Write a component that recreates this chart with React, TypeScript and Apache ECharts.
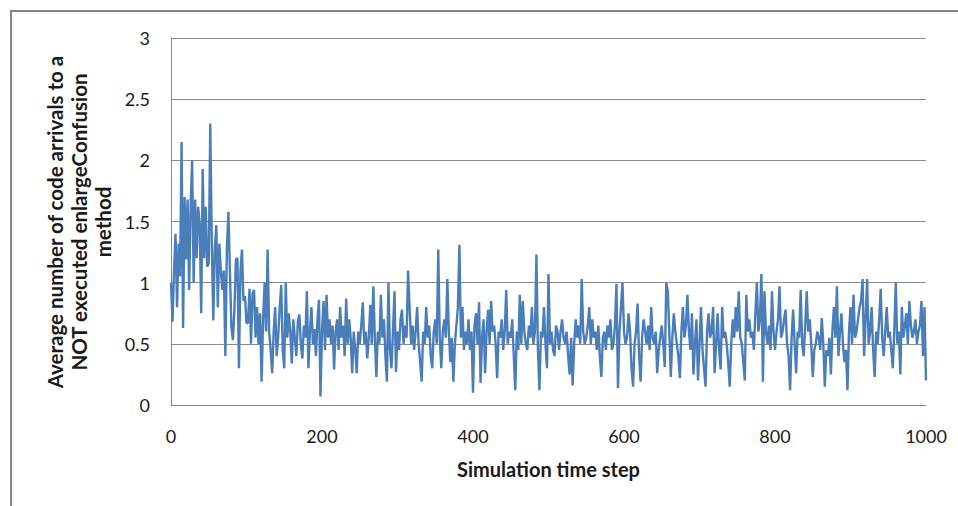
import React, { useEffect, useRef } from "react";
import * as echarts from "echarts";

// Simulation time steps are sampled every STEP_SIZE steps (0..1000)
const STEP_SIZE = 2;

// Average number of code arrivals (steps 0,2,4,...,1000)
const arrivals: number[] = [
  // 0-48
  1.0, 0.68, 1.1, 1.4, 0.8, 1.32, 1.05, 2.15, 0.63, 1.7, 1.19, 1.68, 0.94, 1.62, 2.0, 1.0, 1.68, 1.2, 1.62, 1.48, 0.75, 1.93, 1.2, 1.62, 1.13,
  // 50-98
  1.16, 2.3, 1.35, 0.69, 1.27, 1.47, 0.8, 1.32, 1.1, 0.94, 1.1, 0.4, 1.27, 1.58, 1.1, 0.64, 0.53, 0.78, 1.19, 1.2, 0.3, 1.1, 1.27, 0.85, 0.89,
  // 100-148
  0.67, 0.67, 0.95, 0.5, 0.91, 0.94, 0.55, 0.8, 0.5, 0.75, 0.19, 0.7, 1.0, 0.6, 1.27, 0.6, 0.45, 0.26, 0.6, 0.8, 0.4, 0.56, 0.8, 0.98, 0.45,
  // 150-198
  0.3, 1.0, 0.55, 0.75, 0.6, 0.34, 0.7, 0.55, 0.4, 0.68, 0.74, 0.5, 0.38, 0.65, 0.55, 0.93, 0.3, 0.6, 0.8, 0.5, 0.62, 0.4, 0.7, 0.86, 0.07,
  // 200-248
  0.6, 0.85, 0.45, 0.9, 0.55, 0.7, 0.5, 0.65, 0.29, 0.6, 0.7, 0.45, 0.8, 0.55, 0.65, 0.4, 0.87, 0.5, 0.7, 0.55, 0.26, 0.6, 0.45, 0.26, 0.6,
  // 250-298
  0.5, 0.65, 0.84, 0.5, 0.6, 0.38, 0.55, 0.82, 0.5, 0.97, 0.55, 0.23, 0.6, 0.5, 0.9, 0.55, 0.7, 0.4, 0.19, 1.0, 0.45, 0.3, 0.6, 0.93, 0.27,
  // 300-348
  0.6, 0.45, 0.7, 0.78, 0.5, 0.65, 0.55, 1.1, 0.8, 0.5, 0.65, 0.45, 0.6, 0.8, 0.5, 0.35, 0.19, 0.6, 0.5, 0.8, 0.55, 0.65, 0.4, 0.3, 0.6,
  // 350-398
  0.7, 0.5, 1.27, 0.55, 0.3, 0.6, 0.7, 0.55, 1.03, 0.6, 0.35, 0.55, 0.19, 0.5, 0.65, 0.8, 1.31, 0.55, 0.8, 0.45, 0.6, 0.5, 0.7, 0.45, 0.6,
  // 400-448
  0.1, 0.65, 0.75, 0.5, 0.84, 0.18, 0.55, 0.7, 0.26, 0.6, 0.78, 0.5, 0.85, 0.6, 0.65, 0.5, 0.22, 0.6, 0.55, 0.7, 0.45, 0.6, 0.94, 0.5, 0.6,
  // 450-498
  0.55, 0.7, 0.4, 0.12, 0.6, 0.45, 0.9, 0.5, 0.85, 0.6, 0.5, 0.45, 0.65, 0.55, 0.8, 0.5, 0.6, 1.23, 0.45, 0.12, 0.6, 0.55, 0.8, 0.5, 0.3,
  // 500-548
  1.07, 0.5, 0.6, 0.45, 0.4, 0.65, 0.6, 0.45, 0.6, 0.7, 0.55, 0.5, 0.6, 0.4, 0.25, 0.55, 0.16, 0.5, 0.7, 0.55, 0.65, 0.5, 1.03, 0.6, 0.5,
  // 550-598
  0.55, 0.65, 0.8, 0.5, 0.7, 0.55, 0.6, 0.45, 0.65, 0.4, 0.23, 0.55, 0.6, 0.45, 0.65, 0.55, 0.7, 0.45, 0.5, 0.65, 0.99, 0.14, 0.6, 0.8, 1.0,
  // 600-648
  0.6, 0.5, 0.55, 0.75, 0.6, 0.3, 0.15, 0.5, 0.6, 0.83, 0.4, 0.19, 0.55, 0.7, 0.6, 0.5, 0.65, 0.45, 0.8, 0.55, 0.5, 0.6, 0.26, 0.45, 0.55,
  // 650-698
  0.65, 0.5, 0.31, 1.0, 0.93, 0.6, 0.23, 0.55, 0.75, 0.6, 0.5, 0.4, 0.22, 0.6, 0.8, 0.55, 0.65, 0.9, 0.6, 0.45, 0.75, 0.25, 0.5, 0.7, 0.2,
  // 700-748
  0.5, 0.8, 0.45, 0.3, 0.15, 0.6, 0.75, 0.55, 0.6, 0.8, 0.26, 0.5, 0.75, 0.45, 0.29, 0.8, 0.55, 0.6, 0.5, 0.35, 0.15, 0.5, 0.7, 0.55, 0.8,
  // 750-798
  0.6, 0.93, 0.55, 0.5, 0.35, 0.2, 0.9, 0.6, 0.7, 0.55, 0.6, 0.45, 0.75, 1.0, 0.6, 0.7, 1.07, 0.19, 0.93, 0.6, 0.5, 0.65, 0.45, 0.93, 0.6,
  // 800-848
  0.45, 0.6, 0.7, 0.97, 0.55, 0.6, 0.7, 0.78, 0.5, 0.4, 0.12, 0.55, 0.78, 0.5, 0.26, 0.6, 0.55, 0.94, 0.5, 0.4, 0.65, 0.93, 0.6, 0.7, 0.5,
  // 850-898
  0.23, 0.45, 0.5, 0.6, 0.55, 0.45, 0.71, 0.5, 0.15, 0.45, 0.4, 0.55, 0.25, 0.6, 0.8, 0.55, 0.97, 0.4, 0.6, 0.75, 0.5, 0.35, 0.45, 0.12, 0.6,
  // 900-948
  0.8, 0.5, 0.9, 0.55, 0.6, 0.7, 0.8, 0.85, 1.03, 0.4, 0.7, 1.03, 0.5, 0.6, 0.8, 0.45, 0.23, 0.6, 0.5, 0.7, 0.95, 0.55, 0.4, 0.6, 0.8,
  // 950-998
  0.55, 0.6, 0.45, 0.3, 0.6, 1.0, 0.5, 0.6, 0.25, 0.8, 0.55, 0.65, 0.75, 0.5, 0.85, 0.65, 0.55, 0.6, 0.7, 0.5, 0.6, 0.65, 0.85, 0.4, 0.8,
  // 1000
  0.2,
];

const xTicks = { min: 0, max: 1000, interval: 200 };
const yTicks = { min: 0, max: 3, interval: 0.5 };

const xTitle = "Simulation time step";
const yTitleLines = ["Average number of code arrivals to a", "NOT executed enlargeConfusion", "method"];

export default function App() {
  const ref = useRef<HTMLDivElement>(null);

  useEffect(() => {
    if (!ref.current) return;
    const chart = echarts.init(ref.current, undefined, { renderer: "svg" });
    const points = arrivals.map((v, i) => [i * STEP_SIZE, v]);
    const font = "Lato, 'Open Sans', sans-serif";
    chart.setOption({
      animation: false,
      backgroundColor: "#ffffff",
      grid: { left: 171, top: 38, right: 32, bottom: 101, containLabel: false },
      xAxis: {
        type: "value",
        min: xTicks.min,
        max: xTicks.max,
        interval: xTicks.interval,
        axisLine: { show: true, lineStyle: { color: "#868686", width: 1 } },
        axisTick: { show: false },
        splitLine: { show: false },
        axisLabel: {
          color: "#1a1a1a",
          fontSize: 18,
          fontFamily: font,
          margin: 22,
          formatter: (v: number) => String(v),
        },
        name: xTitle,
        nameLocation: "middle",
        nameGap: 54,
        nameTextStyle: { color: "#1a1a1a", fontSize: 20, fontWeight: "bold", fontFamily: font },
      },
      yAxis: {
        type: "value",
        min: yTicks.min,
        max: yTicks.max,
        interval: yTicks.interval,
        axisLine: { show: true, lineStyle: { color: "#868686", width: 1 } },
        axisTick: { show: false },
        splitLine: { show: true, lineStyle: { color: "#8c8c8c", width: 1 } },
        axisLabel: { color: "#1a1a1a", fontSize: 18, fontFamily: font, margin: 21 },
      },
      graphic: [
        {
          type: "rect",
          shape: { x: 11, y: 11, width: 1000, height: 600 },
          style: { fill: "none", stroke: "#868686", lineWidth: 2 },
          silent: true,
        },
        {
          type: "text",
          x: 79,
          y: 222,
          rotation: Math.PI / 2,
          style: {
            text: yTitleLines.join("\n"),
            align: "center",
            verticalAlign: "middle",
            fontSize: 20.5,
            lineHeight: 24,
            fontWeight: "bold",
            fontFamily: font,
            fill: "#1a1a1a",
          },
        },
      ],
      series: [
        {
          type: "line",
          data: points,
          showSymbol: false,
          symbol: "none",
          lineStyle: { color: "#4a7ebb", width: 2.4 },
        },
      ],
    });
    return () => chart.dispose();
  }, []);

  return (
    <div
      ref={ref}
      style={{ position: "fixed", left: 0, top: 0, width: 958, height: 506 }}
    />
  );
}
